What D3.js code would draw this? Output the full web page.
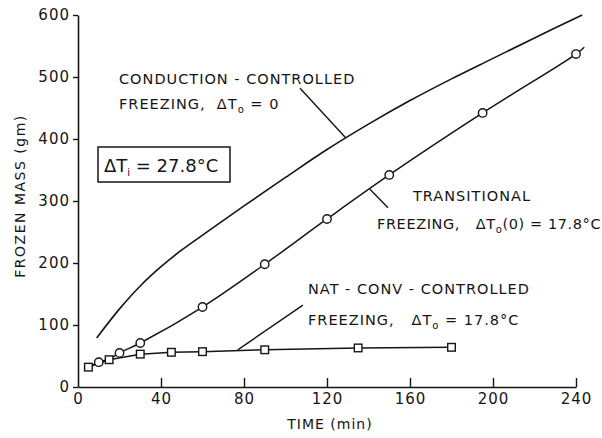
<!DOCTYPE html>
<html>
<head>
<meta charset="utf-8">
<script src="https://cdn.jsdelivr.net/npm/d3@7"></script>
<style>
  body { margin: 0; background: #fff; }
  text { font-family: "DejaVu Sans", sans-serif; fill: #151515; white-space: pre; }
</style>
</head>
<body>
<div id="chart"></div>
<script>
    // datos
    var xTicks = [0, 40, 80, 120, 160, 200, 240];
    var yTicks = [0, 100, 200, 300, 400, 500, 600];

    // conduccion (sin marcadores)
    var condT = [9, 20, 30, 40, 50, 60, 80, 100, 120, 140, 160, 180, 200, 220, 243];
    var condM = [79, 126, 163, 194, 221, 245, 292, 338, 383, 424, 462, 497, 530, 563, 600];

    // transicional (circulos)
    var transT = [5, 10, 15, 20, 30, 60, 90, 120, 150, 195, 240, 244];
    var transM = [32, 40, 45, 55, 71, 129, 198, 271, 342, 442, 537, 548];
    var circleT = [10, 20, 30, 60, 90, 120, 150, 195, 240];

    // conveccion natural (cuadrados)
    var natT = [5, 15, 30, 45, 60, 90, 135, 180];
    var natM = [32, 44, 53, 56, 57, 60, 63, 64];

    // lineas guia de las etiquetas, en unidades de datos
    var leaders = [
      { t1: 107, m1: 482, t2: 129, m2: 402 },
      { t1: 140.7, m1: 319, t2: 149.4, m2: 289 },
      { t1: 77, m1: 60, t2: 108.4, m2: 132 }
    ];

    var margin = {top: 15, right: 26, bottom: 51, left: 78},
        width = 602 - margin.left - margin.right,
        height = 438 - margin.top - margin.bottom;

    var root = d3.select("#chart")
      .append("svg")
        .attr("width", 602)
        .attr("height", 438);
    var svg = root.append("g")
        .attr("transform", "translate(" + margin.left + "," + margin.top + ")");

    var x = d3.scaleLinear().domain([0, 240]).range([0, width]);
    var y = d3.scaleLinear().domain([0, 600]).range([height, 0]);

    function zip(ts, ms) { return ts.map(function(t, i) { return [t, ms[i]]; }); }
    var transData = zip(transT, transM);
    var natData = zip(natT, natM);
    var condData = zip(condT, condM);

    // ejes
    var gx = svg.append("g")
      .attr("transform", "translate(0," + height + ")")
      .call(d3.axisBottom(x).tickValues(xTicks).tickSizeInner(-9).tickSizeOuter(0).tickPadding(6));
    var gy = svg.append("g")
      .call(d3.axisLeft(y).tickValues(yTicks).tickSizeInner(5).tickSizeOuter(0).tickPadding(3));
    [gx, gy].forEach(function(g) {
      g.select(".domain").attr("stroke", "#151515").attr("stroke-width", 1.6);
      g.selectAll(".tick line").attr("stroke", "#151515").attr("stroke-width", 1.4);
      g.selectAll(".tick text")
        .style("font-family", "DejaVu Sans, sans-serif")
        .style("font-size", "15px")
        .style("letter-spacing", "1px")
        .attr("fill", "#151515");
    });
    gx.selectAll(".tick").filter(function(d) { return d === 0; }).select("line").remove();

    // curvas
    var line = d3.line()
      .x(function(d) { return x(d[0]); })
      .y(function(d) { return y(d[1]); });

    svg.append("path")
      .datum(condData)
      .attr("d", line.curve(d3.curveCatmullRom.alpha(0.5)))
      .attr("fill", "none").attr("stroke", "#151515").attr("stroke-width", 1.6);

    svg.append("path")
      .datum(transData)
      .attr("d", line.curve(d3.curveCatmullRom.alpha(0.5)))
      .attr("fill", "none").attr("stroke", "#151515").attr("stroke-width", 1.5);

    svg.append("path")
      .datum(natData)
      .attr("d", line.curve(d3.curveLinear))
      .attr("fill", "none").attr("stroke", "#151515").attr("stroke-width", 1.5);

    // marcadores
    svg.selectAll("circle.trans")
      .data(transData.filter(function(d) { return circleT.indexOf(d[0]) >= 0; }))
      .enter()
      .append("circle")
        .attr("cx", function(d) { return x(d[0]); })
        .attr("cy", function(d) { return y(d[1]); })
        .attr("r", 4.2)
        .attr("fill", "#fff").attr("stroke", "#151515").attr("stroke-width", 1.4);

    svg.selectAll("rect.nat")
      .data(natData)
      .enter()
      .append("rect")
        .attr("x", function(d) { return x(d[0]) - 3.8; })
        .attr("y", function(d) { return y(d[1]) - 3.8; })
        .attr("width", 7.6).attr("height", 7.6)
        .attr("fill", "#fff").attr("stroke", "#151515").attr("stroke-width", 1.4);

    // lineas guia
    svg.selectAll("line.leader")
      .data(leaders)
      .enter()
      .append("line")
        .attr("x1", function(d) { return x(d.t1); })
        .attr("y1", function(d) { return y(d.m1); })
        .attr("x2", function(d) { return x(d.t2); })
        .attr("y2", function(d) { return y(d.m2); })
        .attr("stroke", "#151515").attr("stroke-width", 1.4);

    // etiquetas (los subindices van como {s: "o"})
    function label(xp, yp, parts, size, ls) {
      var t = root.append("text")
        .attr("x", xp).attr("y", yp)
        .style("font-size", (size || 14.5) + "px")
        .style("letter-spacing", (ls === undefined ? 1 : ls) + "px");
      var back = 0;
      parts.forEach(function(p) {
        if (typeof p !== "string") {
          t.append("tspan").attr("dy", 4).style("font-size", "10px").text(p.s);
          back = -4;
        } else {
          t.append("tspan").attr("dy", back).text(p);
          back = 0;
        }
      });
      return t;
    }
    label(119, 84, ["CONDUCTION - CONTROLLED"]);
    label(119, 109, ["FREEZING,  \u0394T", {s: "o"}, " = 0"]);
    label(413, 201, ["TRANSITIONAL"]);
    label(377, 229, ["FREEZING,   \u0394T", {s: "o"}, "(0) = 17.8\u00b0C"], 14.5, 0.6);
    label(308, 294, ["NAT - CONV - CONTROLLED"]);
    label(308, 325, ["FREEZING,   \u0394T", {s: "o"}, " = 17.8\u00b0C"]);

    // recuadro dT_i
    root.append("rect")
      .attr("x", 98).attr("y", 147).attr("width", 132).attr("height", 35)
      .attr("fill", "none").attr("stroke", "#151515").attr("stroke-width", 1.5);
    label(104, 172, ["\u0394T", {s: "i"}, " = 27.8\u00b0C"], 18, 0);

    // titulos de los ejes
    root.append("text")
      .attr("x", 330).attr("y", 429)
      .style("text-anchor", "middle")
      .style("font-size", "14px")
      .style("letter-spacing", "1px")
      .text("TIME (min)");

    root.append("text")
      .attr("transform", "translate(25,196) rotate(-90)")
      .style("text-anchor", "middle")
      .style("font-size", "14px")
      .style("letter-spacing", "1.5px")
      .text("FROZEN MASS (gm)");
</script>
</body>
</html>
